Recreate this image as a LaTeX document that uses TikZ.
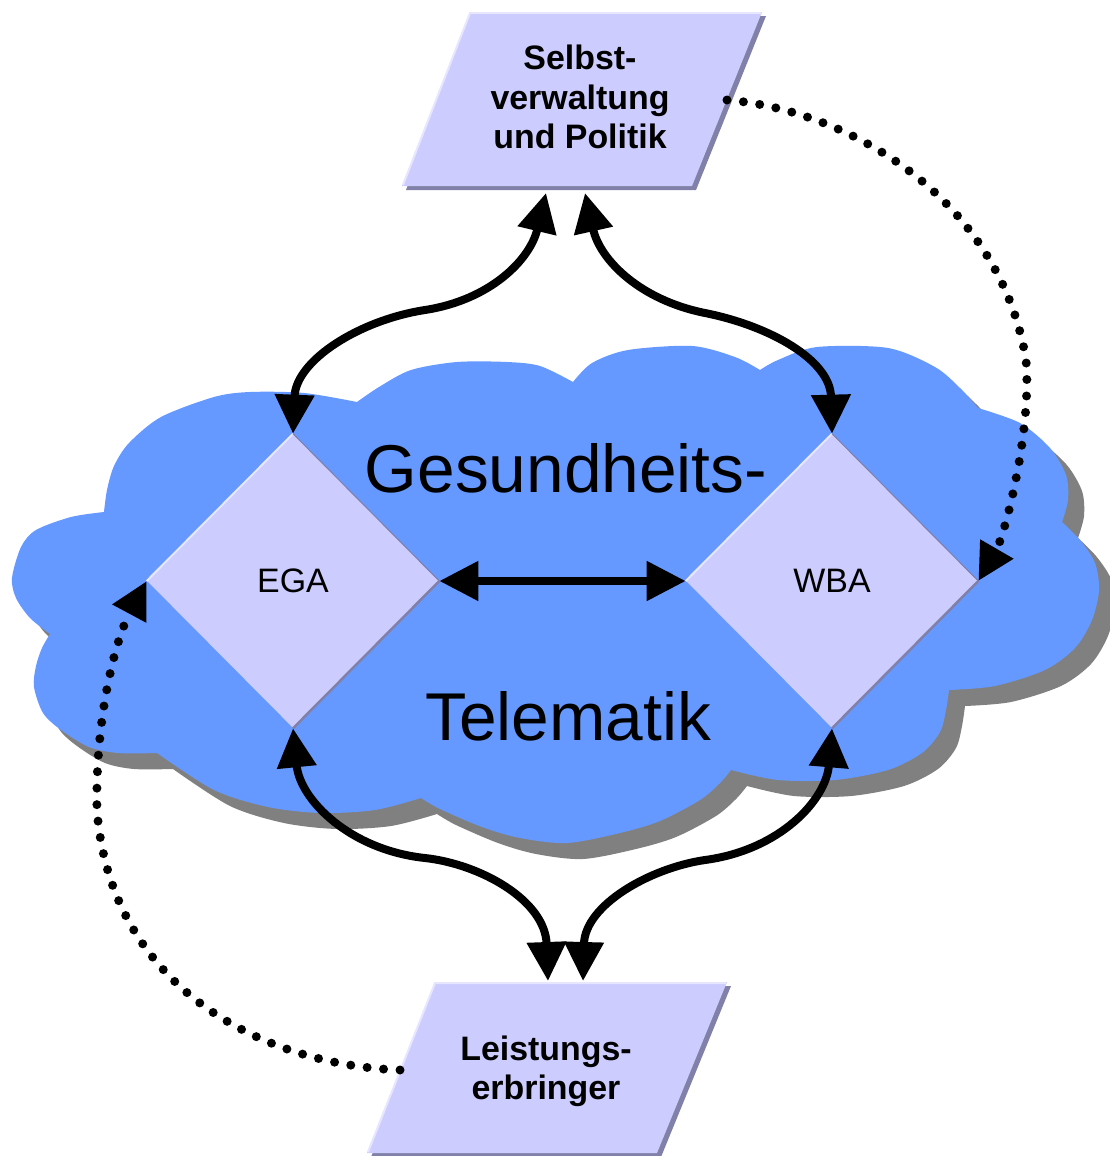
\documentclass[tikz,border=0pt]{standalone}
\usepackage{fontspec}
\setmainfont{Liberation Sans}
\usetikzlibrary{arrows.meta,shapes.geometric}
\definecolor{cloudblue}{HTML}{6699FF}
\definecolor{cloudshadow}{HTML}{808080}
\definecolor{boxfill}{HTML}{CCCCFF}
\definecolor{boxshadow}{HTML}{8080A8}
\definecolor{boxlight}{HTML}{E6E6FF}
\def\mycloudpath{(50,634)
 -- plot[smooth] coordinates {(50,634) (30,618) (16,598) (12,578) (21,547) (36,530) (71,517) (104,512)}
 -- plot[smooth] coordinates {(104,512) (107,490) (114,466) (129,443) (161,417) (214,397) (250,392) (304,393) (357,402)}
 -- plot[smooth] coordinates {(357,402) (379,387) (411,370) (457,362) (507,362) (540,366) (573,382)}
 -- plot[smooth] coordinates {(573,382) (592,363) (628,350) (692,346) (735,357) (760,370)}
 -- plot[smooth] coordinates {(760,370) (778,360) (817,347) (888,348) (935,367) (960,388) (978,408)}
 -- plot[smooth] coordinates {(978,408) (1020,423) (1050,448) (1066,475) (1068,500) (1062,522)}
 -- plot[smooth] coordinates {(1062,522) (1080,540) (1095,563) (1099,590) (1092,620) (1075,648) (1045,670) (995,686) (949,690)}
 -- plot[smooth] coordinates {(949,690) (946,710) (940,732) (922,753) (888,770) (835,780) (778,780) (731,770)}
 -- plot[smooth] coordinates {(731,770) (720,783) (700,800) (660,821) (620,833) (567,843) (520,838) (482,827) (440,809) (421,798)}
 -- plot[smooth] coordinates {(421,798) (375,810) (321,813) (268,807) (214,790) (157,753)}
 -- plot[smooth] coordinates {(157,753) (118,753) (89,747) (61,730) (43,713) (34,687) (36,666) (42,648) (50,634)}
 -- cycle}
\begin{document}
\begin{tikzpicture}[x=0.02cm,y=-0.02cm,
  bigarrow/.style={line width=0.16cm,
    {Triangle[length=0.78cm,width=0.76cm]}-{Triangle[length=0.78cm,width=0.76cm]}},
  dotarrow/.style={line width=0.18cm, line cap=round, dash pattern=on 0pt off 0.33cm,
    -{Triangle[length=0.74cm,width=0.72cm]}},
  diam/.style={diamond, fill=boxfill, minimum width=5.84cm, minimum height=5.88cm,
    inner sep=0pt, font=\fontsize{19.3pt}{22pt}\selectfont},
  smalltext/.style={align=center, inner sep=0pt, font=\fontsize{19.3pt}{22.4pt}\selectfont\bfseries},
  bigtext/.style={anchor=base, inner sep=0pt, font=\fontsize{38.5pt}{44pt}\selectfont},
  parshadow/.style={fill=boxshadow},
  parfill/.style={fill=boxfill},
  parlight/.style={draw=boxlight, line width=0.04cm}]
\useasboundingbox (0,0) rectangle (1109,1156);
\fill[white] (0,0) rectangle (1109,1156);
% cloud
\fill[cloudshadow, shift={(16,16)}] \mycloudpath;
\fill[cloudblue] \mycloudpath;
% diamonds
\node[diam] (ega) at (293,581) {EGA};
\node[diam] (wba) at (832,581) {WBA};
\draw[boxlight, line width=0.04cm] (ega.west) -- (ega.north);
\draw[boxshadow, line width=0.02cm] (ega.north) -- (ega.east);
\draw[boxshadow, line width=0.05cm] (ega.east) -- (ega.south);
\draw[boxlight, line width=0.04cm] (wba.west) -- (wba.north);
\draw[boxshadow, line width=0.02cm] (wba.north) -- (wba.east);
\draw[boxshadow, line width=0.05cm] (wba.east) -- (wba.south);
% big texts
\node[bigtext] (gesund) at (566,492) {Gesundheits-};
\node[bigtext] (telem) at (568,740) {Telematik};
% parallelograms
\fill[parshadow] (474,16) -- (766,16) -- (696,190) -- (406,190) -- cycle;
\fill[parfill] (470,12) -- (762,12) -- (692,186) -- (402,186) -- cycle;
\draw[parlight] (403,185) -- (470,13) -- (761,13);
\node[smalltext] (selbst) at (580,97) {Selbst-\\verwaltung\\und Politik};
\fill[parshadow] (439,986) -- (731,986) -- (661,1157) -- (371,1157) -- cycle;
\fill[parfill] (435,982) -- (727,982) -- (657,1153) -- (367,1153) -- cycle;
\draw[parlight] (368,1152) -- (435,983) -- (726,983);
\node[smalltext] (leist) at (546,1071) {Leistungs-\\erbringer};
% connector end points on the parallelograms
\coordinate (svA) at (546,193);
\coordinate (svB) at (585,193);
\coordinate (svR) at (727,100);
\coordinate (lbA) at (548,981);
\coordinate (lbB) at (583,981);
\coordinate (lbL) at (400,1070);
% arrows
\draw[bigarrow] (svA) .. controls (530,260) and (490,300) .. (425,310)
                      .. controls (360,320) and (296,360) .. (ega.north);
\draw[bigarrow] (svB) .. controls (600,260) and (640,300) .. (705,313)
                      .. controls (770,326) and (830,360) .. (wba.north);
\draw[bigarrow] (ega.south) .. controls (300,800) and (350,850) .. (425,858)
                      .. controls (480,864) and (545,900) .. (lbA);
\draw[bigarrow] (wba.south) .. controls (826,800) and (780,850) .. (705,860)
                      .. controls (650,868) and (585,905) .. (lbB);
\draw[bigarrow] (ega.east) -- (wba.west);
\draw[dotarrow] (svR) .. controls (850,110) and (1000,200) .. (1026,360)
                      .. controls (1032,430) and (1005,535) .. (wba.east);
\draw[dotarrow] (lbL) .. controls (260,1065) and (110,985) .. (97,810)
                      .. controls (95,720) and (115,640) .. (ega.west);
\end{tikzpicture}
\end{document}
